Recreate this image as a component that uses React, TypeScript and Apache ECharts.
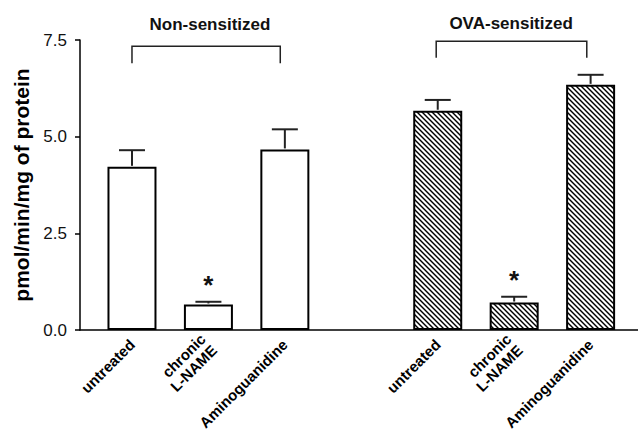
import React, { useEffect, useRef } from "react";
import * as echarts from "echarts";

// ---- data ----
const groups = ["Non-sensitized", "OVA-sensitized"];
const treatments = ["untreated", "chronic\nL-NAME", "Aminoguanidine"];
const xPositions = [0, 1, 2, 4, 5, 6];
const barLabels = [...treatments, ...treatments];
const meanValues = [4.22, 0.66, 4.67, 5.67, 0.71, 6.34];
const semValues = [0.43, 0.07, 0.52, 0.28, 0.15, 0.26];
const significance = ["", "*", "", "", "*", ""];
const hatched = [false, false, false, true, true, true];
const yTicks = [0, 2.5, 5, 7.5];
const bracketStart = [0, 3.98];
const bracketEnd = [1.94, 5.95];
const bracketTop = [7.34, 7.47];
const bracketBottom = [6.9, 7.04];
const titleX = [1.02, 4.96];
const titleY = [7.89, 7.93];

const FONT = "'Liberation Sans', Arial, Helvetica, sans-serif";

function makeHatch(): HTMLCanvasElement {
  const c = document.createElement("canvas");
  c.width = 5;
  c.height = 5;
  const ctx = c.getContext("2d")!;
  ctx.fillStyle = "#fff";
  ctx.fillRect(0, 0, 5, 5);
  ctx.strokeStyle = "#000";
  ctx.lineWidth = 1.4;
  for (const o of [-5, 0, 5]) {
    ctx.beginPath();
    ctx.moveTo(o - 1, -1);
    ctx.lineTo(o + 6, 6);
    ctx.stroke();
  }
  return c;
}

export default function App() {
  const ref = useRef<HTMLDivElement>(null);
  useEffect(() => {
    if (!ref.current) return;
    const chart = echarts.init(ref.current, null, { renderer: "svg" });
    const hatch = makeHatch();
    const option: any = {
      animation: false,
      grid: {
        left: 80,
        right: 0,
        top: 40,
        bottom: 99,
        containLabel: false,
        outerBoundsMode: "none",
      },
      xAxis: {
        type: "value",
        min: -0.68,
        max: 6.62,
        axisLine: { show: true, onZero: false, lineStyle: { color: "#000", width: 1.5 } },
        axisTick: { show: false },
        splitLine: { show: false },
        axisLabel: {
          customValues: xPositions,
          formatter: (v: number) => {
            const i = xPositions.indexOf(Math.round(v));
            return i >= 0 ? barLabels[i] : "";
          },
          rotate: 45,
          margin: 12,
          fontSize: 15,
          fontWeight: "bold",
          color: "#000",
          fontFamily: FONT,
          lineHeight: 16,
          hideOverlap: false,
        },
      },
      yAxis: {
        type: "value",
        min: 0,
        max: 7.5,
        interval: 2.5,
        axisLine: { show: true, onZero: false, lineStyle: { color: "#000", width: 1.5 } },
        axisTick: { show: true, length: 5, lineStyle: { color: "#000", width: 1.5 } },
        splitLine: { show: false },
        axisLabel: {
          formatter: (v: number) => (yTicks.includes(v) ? v.toFixed(1) : ""),
          fontSize: 17,
          color: "#111",
          fontFamily: FONT,
          margin: 13,
        },
        name: "pmol/min/mg of protein",
        nameLocation: "middle",
        nameGap: 46,
        nameTextStyle: { fontSize: 21, fontWeight: "bold", color: "#000", fontFamily: FONT },
      },
      series: [
        {
          type: "bar",
          barWidth: 49,
          z: 2,
          itemStyle: { borderColor: "#000", borderWidth: 2 },
          data: meanValues.map((v, i) => ({
            value: [xPositions[i], v],
            itemStyle: {
              color: hatched[i] ? { image: hatch, repetition: "repeat" } : "#fff",
            },
          })),
        },
        {
          type: "custom",
          z: 3,
          clip: false,
          data: meanValues.map((v, i) => [xPositions[i], v, semValues[i]]),
          renderItem: (params: any, api: any) => {
            const x = api.value(0);
            const m = api.value(1);
            const s = api.value(2);
            const base = api.coord([x, m]);
            const top = api.coord([x, m + s]);
            const st = { stroke: "#222", lineWidth: 2 };
            const children: any[] = [
              { type: "line", shape: { x1: base[0], y1: base[1] - 1, x2: top[0], y2: top[1] }, style: st },
              { type: "line", shape: { x1: top[0] - 13, y1: top[1], x2: top[0] + 13, y2: top[1] }, style: st },
            ];
            const sig = significance[params.dataIndex];
            if (sig) {
              children.push({
                type: "text",
                x: top[0],
                y: top[1] - 4,
                style: {
                  text: sig,
                  fontSize: 26,
                  fontWeight: "bold",
                  fontFamily: FONT,
                  fill: "#111",
                  align: "center",
                  verticalAlign: "bottom",
                },
              });
            }
            return { type: "group", children };
          },
        },
        {
          type: "custom",
          z: 3,
          clip: false,
          data: groups.map((g, i) => [bracketStart[i], bracketEnd[i], bracketTop[i], bracketBottom[i], titleX[i], titleY[i]]),
          renderItem: (params: any, api: any) => {
            const i = params.dataIndex;
            const p1 = api.coord([api.value(0), api.value(3)]);
            const p2 = api.coord([api.value(0), api.value(2)]);
            const p3 = api.coord([api.value(1), api.value(2)]);
            const p4 = api.coord([api.value(1), api.value(3)]);
            const t = api.coord([api.value(4), api.value(5)]);
            return {
              type: "group",
              children: [
                {
                  type: "polyline",
                  shape: { points: [p1, p2, p3, p4] },
                  style: { stroke: "#222", lineWidth: 1.5, fill: "none" },
                },
                {
                  type: "text",
                  x: t[0],
                  y: t[1],
                  style: {
                    text: groups[i],
                    fontSize: 17,
                    fontWeight: "bold",
                    fontFamily: FONT,
                    fill: "#111",
                    align: "center",
                    verticalAlign: "middle",
                  },
                },
              ],
            };
          },
        },
      ],
    };
    chart.setOption(option);
    return () => chart.dispose();
  }, []);
  return (
    <div
      ref={ref}
      style={{ position: "fixed", left: 0, top: 0, width: 638, height: 429, background: "#fff" }}
    />
  );
}
